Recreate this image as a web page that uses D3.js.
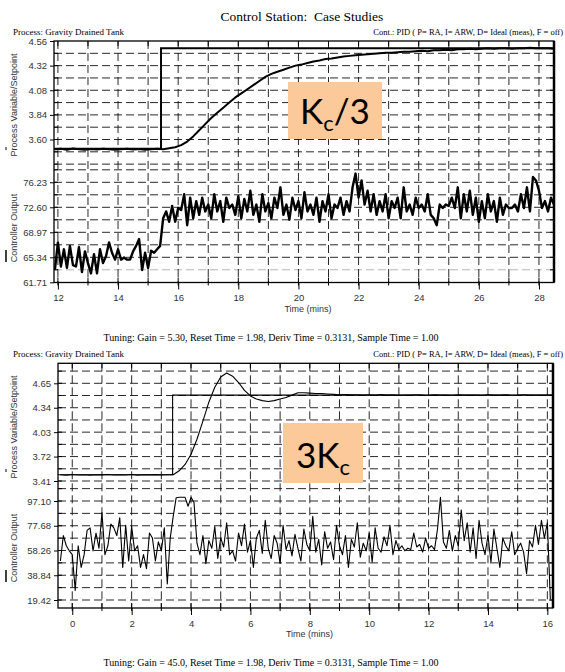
<!DOCTYPE html>
<html>
<head>
<meta charset="utf-8">
<script src="https://cdn.jsdelivr.net/npm/d3@7"></script>
<style>
  body { margin: 0; background: #fff; }
</style>
</head>
<body>
<div id="chart"></div>
<script>
// ---- data ----
const topPvTicks = [3.60, 3.84, 4.08, 4.32, 4.56];
const topCoTicks = [61.71, 65.34, 68.97, 72.60, 76.23];
const topTimeTicks = [12, 14, 16, 18, 20, 22, 24, 26, 28];
const topSpTime = [11.87, 15.43, 15.43, 28.5];
const topSpValue = [3.51, 3.51, 4.49, 4.49];
// PV sampled every 0.2 min from 11.9
const topPvStart = 11.9, topPvStep = 0.2;
const topPvValue = [
  3.505, 3.51, 3.50, 3.512, 3.505, 3.50, 3.508, 3.503, 3.51, 3.505,
  3.50, 3.506, 3.51, 3.503, 3.508, 3.50, 3.505, 3.51, 3.505, 3.515,
  3.525, 3.545, 3.58, 3.63, 3.69, 3.75, 3.81, 3.86, 3.91, 3.96,
  4.01, 4.05, 4.09, 4.13, 4.17, 4.21, 4.24, 4.26, 4.28, 4.30,
  4.32, 4.33, 4.345, 4.36, 4.37, 4.385, 4.39, 4.40, 4.41, 4.415,
  4.42, 4.425, 4.43, 4.435, 4.44, 4.445, 4.445, 4.45, 4.455, 4.455,
  4.46, 4.465, 4.46, 4.47, 4.47, 4.475, 4.47, 4.48, 4.48, 4.485,
  4.48, 4.485, 4.49, 4.485, 4.49, 4.49, 4.485, 4.49, 4.49, 4.495,
  4.49, 4.49, 4.49, 4.485
];
// CO sampled every 0.1 min from 11.9
const topCoStart = 11.9, topCoStep = 0.1;
const topCoValue = [
  63.5, 67.5, 64.0, 66.5, 63.8, 67.0, 64.2, 64.0, 66.8, 63.2,
  66.2, 64.5, 63.0, 65.8, 63.0, 66.5, 64.5, 65.5, 67.5, 66.0,
  65.0, 66.5, 65.0, 65.3, 65.0, 65.0, 66.2, 67.0, 68.0, 63.5,
  66.0, 63.8, 66.3, 66.0, 66.5, 67.0, 71.0, 72.0, 70.5, 72.8,
  70.5, 72.5, 72.2, 74.5, 70.0, 74.0, 71.0, 73.5, 71.5, 74.0,
  72.0, 73.0, 71.0, 74.5, 72.0, 73.5, 70.5, 74.0, 72.5, 73.0,
  71.5, 74.2, 71.0, 73.8, 72.0, 75.0, 71.5, 73.0, 70.5, 74.5,
  72.0, 73.2, 71.0, 74.0, 72.5, 75.5, 71.5, 73.0, 70.8, 74.0,
  72.2, 73.5, 71.0, 74.8, 72.0, 73.0, 71.5, 74.0, 70.5, 73.5,
  72.0, 74.5, 71.0, 73.0, 72.5, 74.0, 71.5, 73.5, 72.0, 75.5,
  77.5, 74.0, 76.5, 73.0, 75.0, 72.0, 74.5, 71.5, 73.5, 72.0,
  74.5, 71.0, 73.5, 72.5, 74.0, 71.0, 75.5, 72.0, 73.0, 71.5,
  74.0, 72.5, 73.0, 72.0, 74.5, 71.5, 71.0, 70.0, 73.0, 72.5,
  73.0, 72.8, 74.0, 72.5, 75.5, 71.0, 74.5, 72.0, 75.0, 71.5,
  74.0, 70.5, 73.5, 71.0, 74.5, 72.0, 73.5, 70.5, 74.0, 71.5,
  73.0, 72.5, 72.5, 73.0, 72.0, 74.5, 72.5, 75.5, 72.0, 77.0,
  76.5, 75.0, 72.5, 73.5, 72.0, 74.0, 73.0
];

const botPvTicks = [3.41, 3.72, 4.03, 4.34, 4.65];
const botCoTicks = [19.42, 38.84, 58.26, 77.68, 97.10];
const botTimeTicks = [0, 2, 4, 6, 8, 10, 12, 14, 16];
const botSpTime = [-0.48, 3.38, 3.38, 16.19];
const botSpValue = [3.49, 3.49, 4.50, 4.50];
const botPvStart = -0.4, botPvStep = 0.2;
const botPvValue = [
  3.49, 3.485, 3.492, 3.487, 3.49, 3.484, 3.49, 3.488, 3.493, 3.486,
  3.49, 3.487, 3.492, 3.485, 3.49, 3.488, 3.491, 3.486, 3.49, 3.49,
  3.54, 3.62, 3.75, 3.94, 4.17, 4.41, 4.60, 4.73, 4.78, 4.74,
  4.66, 4.56, 4.49, 4.45, 4.43, 4.42, 4.43, 4.45, 4.47, 4.50,
  4.53, 4.53, 4.525, 4.52, 4.52, 4.515, 4.51, 4.505, 4.508, 4.503,
  4.505, 4.50, 4.504, 4.50, 4.506, 4.50, 4.503, 4.498, 4.502, 4.50,
  4.505, 4.50, 4.498, 4.503, 4.50, 4.502, 4.498, 4.504, 4.50, 4.50,
  4.502, 4.498, 4.505, 4.50, 4.50, 4.503, 4.498, 4.50, 4.504, 4.50,
  4.50, 4.502, 4.50, 4.50
];
const botCoStart = -0.4, botCoStep = 0.1;
const botCoValue = [
  50, 70, 62, 58, 55, 27, 62, 45, 55, 74,
  76, 58, 72, 60, 88, 55, 62, 79, 76, 70,
  84, 45, 78, 50, 77, 58, 62, 45, 55, 44,
  72, 68, 50, 65, 58, 76, 32, 68, 85, 99.7,
  100, 100, 100, 93, 100, 96, 64, 55, 70, 48,
  66, 60, 77, 52, 68, 61, 80, 55, 58, 50,
  72, 62, 79, 57, 66, 45, 68, 74, 56, 82,
  60, 52, 70, 64, 48, 78, 59, 66, 54, 71,
  60, 50, 75, 63, 58, 85, 57, 67, 47, 73,
  60, 65, 51, 78, 62, 55, 70, 45, 67, 61,
  80, 53, 64, 58, 72, 49, 76, 60, 57, 69,
  62, 78, 55, 66, 59, 62, 58, 60, 59, 72,
  61, 63, 57, 68, 60, 62, 59, 75, 100, 65,
  60, 74, 58, 70, 62, 90, 66, 80, 57, 76,
  52, 82, 64, 55, 70, 49, 75, 60, 45, 68,
  62, 58, 73, 55, 60, 64, 57, 40, 66, 61,
  78, 63, 82, 68, 80, 20
];

const processText = "Process: Gravity Drained Tank";
const contText = "Cont.: PID ( P= RA, I= ARW, D= Ideal (meas), F = off)";
const topTuning = "Tuning: Gain = 5.30, Reset Time = 1.98, Deriv Time = 0.3131, Sample Time = 1.00";
const botTuning = "Tuning: Gain = 45.0, Reset Time = 1.98, Deriv Time = 0.3131, Sample Time = 1.00";

// ---- drawing ----
const svg = d3.select("#chart").append("svg")
    .attr("width", 565)
    .attr("height", 672);

const serif = "'Liberation Serif', 'Times New Roman', serif";
const sans = "'Liberation Sans', Arial, sans-serif";

svg.append("text")
    .attr("x", 302).attr("y", 21)
    .attr("text-anchor", "middle")
    .style("font-family", serif).style("font-size", "13.5px")
    .style("white-space", "pre")
    .text("Control Station:  Case Studies");

function series(start, step, values) {
  return values.map((v, i) => ({t: start + i * step, v: v}));
}

function drawPanel(p) {
  const x = d3.scaleLinear().domain(p.xDomain).range([p.left, p.right]);
  const yPv = d3.scaleLinear().domain(d3.extent(p.pvTicks)).range(p.pvRange);
  const yCo = d3.scaleLinear().domain(d3.extent(p.coTicks)).range(p.coRange);
  const g = svg.append("g");

  // header
  g.append("text").attr("x", 13).attr("y", p.top - 6)
      .style("font-family", serif).style("font-size", "9px")
      .text(processText);
  g.append("text").attr("x", 563).attr("y", p.top - 6)
      .attr("text-anchor", "end")
      .style("font-family", serif).style("font-size", "8.5px")
      .text(contText);

  // grid
  const pvStep = p.pvTicks[1] - p.pvTicks[0];
  const coStep = p.coTicks[1] - p.coTicks[0];
  const pvGrid = d3.range(p.pvGridFrom, p.pvGridTo + 1e-6, pvStep / 2);
  const coGrid = d3.range(p.coGridFrom, p.coGridTo + 1e-6, coStep / 2);
  const hy = pvGrid.map(v => yPv(v)).concat(coGrid.map(v => yCo(v)))
      .filter(y => y > p.top + 1 && y < p.bottom - 1);
  const vx = d3.range(Math.ceil(p.xDomain[0]), Math.floor(p.xDomain[1]) + 1).map(t => x(t));

  g.selectAll(".hgrid").data(hy).enter().append("line")
      .attr("x1", p.left).attr("x2", p.right)
      .attr("y1", d => d).attr("y2", d => d)
      .attr("stroke", (d, i) => (p.grayLine && Math.abs(d - yCo(p.grayLine)) < 0.5) ? "#aaa" : "#111")
      .attr("stroke-width", 0.9)
      .attr("stroke-dasharray", "8,4");
  g.selectAll(".vgrid").data(vx).enter().append("line")
      .attr("x1", d => d).attr("x2", d => d)
      .attr("y1", p.top).attr("y2", p.bottom)
      .attr("stroke", "#111")
      .attr("stroke-width", 0.9)
      .attr("stroke-dasharray", "8,4");

  // small inner ticks on the frame
  hy.forEach(y => {
    g.append("line").attr("x1", p.left).attr("x2", p.left + 4).attr("y1", y).attr("y2", y).attr("stroke", "#000");
    g.append("line").attr("x1", p.right - 4).attr("x2", p.right).attr("y1", y).attr("y2", y).attr("stroke", "#000");
  });
  vx.forEach(xx => {
    g.append("line").attr("x1", xx).attr("x2", xx).attr("y1", p.top).attr("y2", p.top + 5).attr("stroke", "#000");
    g.append("line").attr("x1", xx).attr("x2", xx).attr("y1", p.bottom - 5).attr("y2", p.bottom + 3).attr("stroke", "#000");
  });

  // axes
  const fmt = d3.format(".2f");
  const axPv = g.append("g").attr("transform", `translate(${p.left},0)`)
      .call(d3.axisLeft(yPv).tickValues(p.pvTicks).tickSize(4).tickPadding(3).tickFormat(fmt));
  const axCo = g.append("g").attr("transform", `translate(${p.left},0)`)
      .call(d3.axisLeft(yCo).tickValues(p.coTicks).tickSize(4).tickPadding(3).tickFormat(fmt));
  const axX = g.append("g").attr("transform", `translate(0,${p.bottom})`)
      .call(d3.axisBottom(x).tickValues(p.timeTicks).tickSize(7).tickPadding(5).tickFormat(d3.format("d")));
  [axPv, axCo, axX].forEach(a => {
    a.select(".domain").remove();
    a.selectAll("text").style("font-family", sans).style("font-size", "9.5px").attr("fill", "#333");
    a.selectAll("line").attr("stroke", "#000");
  });

  // frame
  g.append("rect")
      .attr("x", p.left).attr("y", p.top)
      .attr("width", p.right - p.left).attr("height", p.bottom - p.top)
      .attr("fill", "none").attr("stroke", "#000").attr("stroke-width", 1.3);
  g.append("line")
      .attr("x1", p.right).attr("x2", p.right).attr("y1", p.top).attr("y2", p.bottom)
      .attr("stroke", "#000").attr("stroke-width", 2.5);

  // data
  const clipId = "clip" + p.id;
  svg.append("clipPath").attr("id", clipId).append("rect")
      .attr("x", p.left).attr("y", p.top)
      .attr("width", p.right - p.left).attr("height", p.bottom - p.top);
  const data = g.append("g").attr("clip-path", `url(#${clipId})`);

  const pvLine = d3.line().x(d => x(d.t)).y(d => yPv(d.v));
  const coLine = d3.line().x(d => x(d.t)).y(d => yCo(d.v));
  const sp = p.spTime.map((t, i) => ({t: t, v: p.spValue[i]}));

  data.append("path").datum(sp).attr("d", pvLine)
      .attr("fill", "none").attr("stroke", "#000").attr("stroke-width", p.spWidth);
  data.append("path").datum(series(p.pvStart, p.pvStepT, p.pvValue)).attr("d", pvLine)
      .attr("fill", "none").attr("stroke", "#000").attr("stroke-width", p.pvWidth)
      .attr("stroke-linejoin", "round");
  data.append("path").datum(series(p.coStart, p.coStepT, p.coValue)).attr("d", coLine)
      .attr("fill", "none").attr("stroke", "#000").attr("stroke-width", p.coWidth)
      .attr("stroke-linejoin", "round");

  // axis titles
  g.append("text")
      .attr("transform", `translate(17,${p.pvLabelY}) rotate(-90)`)
      .attr("text-anchor", "middle")
      .style("font-family", sans).style("font-size", "9px").attr("fill", "#333")
      .text("Process Variable/Setpoint");
  g.append("text")
      .attr("transform", `translate(17,${p.coLabelY}) rotate(-90)`)
      .attr("text-anchor", "middle")
      .style("font-family", sans).style("font-size", "9px").attr("fill", "#333")
      .text("Controller Output");
  // legend marks
  g.append("line").attr("x1", 6).attr("x2", 6).attr("y1", p.pvLabelY + 42).attr("y2", p.pvLabelY + 45)
      .attr("stroke", "#000").attr("stroke-width", 1);
  g.append("line").attr("x1", 6).attr("x2", 6).attr("y1", p.coLabelY + 22).attr("y2", p.coLabelY + 34)
      .attr("stroke", "#000").attr("stroke-width", 1.5);

  g.append("text")
      .attr("x", (p.left + p.right) / 2 + 4).attr("y", p.bottom + 29)
      .attr("text-anchor", "middle")
      .style("font-family", sans).style("font-size", "9px").attr("fill", "#333")
      .text("Time (mins)");
  g.append("text")
      .attr("x", 271).attr("y", p.bottom + 58)
      .attr("text-anchor", "middle")
      .style("font-family", serif).style("font-size", "10px")
      .text(p.tuning);

  // orange note
  const nb = p.note;
  g.append("rect")
      .attr("x", nb.x).attr("y", nb.y).attr("width", nb.w).attr("height", nb.h)
      .attr("fill", "#FBC99A");
  const nt = g.append("text")
      .attr("x", nb.x + nb.w / 2).attr("y", nb.y + nb.h - 15)
      .attr("text-anchor", "middle")
      .style("font-family", "Lato, 'Open Sans', sans-serif").style("font-size", "35px")
      .attr("fill", "#000");
  nb.parts.forEach(part => {
    nt.append("tspan")
        .attr("dy", part.dy)
        .style("font-size", part.sub ? "22px" : "35px")
        .text(part.s);
  });
}

drawPanel({
  id: "top",
  left: 54, right: 554, top: 41, bottom: 282.5,
  xDomain: [11.87, 28.5],
  pvTicks: topPvTicks, pvRange: [139.5, 41],
  coTicks: topCoTicks, coRange: [282.3, 182.3],
  pvGridFrom: 3.36, pvGridTo: 4.56,
  coGridFrom: 61.71, coGridTo: 78.045,
  grayLine: 63.525,
  timeTicks: topTimeTicks,
  spTime: topSpTime, spValue: topSpValue,
  pvStart: topPvStart, pvStepT: topPvStep, pvValue: topPvValue,
  coStart: topCoStart, coStepT: topCoStep, coValue: topCoValue,
  spWidth: 2, pvWidth: 2, coWidth: 2.4,
  pvLabelY: 105, coLabelY: 228,
  tuning: topTuning,
  note: {x: 288, y: 82, w: 94, h: 57,
         parts: [{s: "K", dy: 0}, {s: "c", sub: true, dy: 7}, {s: "/3", dy: -7}]}
});

drawPanel({
  id: "bot",
  left: 58, right: 553, top: 363.3, bottom: 608,
  xDomain: [-0.48, 16.19],
  pvTicks: botPvTicks, pvRange: [481, 383.3],
  coTicks: botCoTicks, coRange: [600, 501],
  pvGridFrom: 3.41, pvGridTo: 4.805,
  coGridFrom: 19.42, coGridTo: 106.81,
  grayLine: null,
  timeTicks: botTimeTicks,
  spTime: botSpTime, spValue: botSpValue,
  pvStart: botPvStart, pvStepT: botPvStep, pvValue: botPvValue,
  coStart: botCoStart, coStepT: botCoStep, coValue: botCoValue,
  spWidth: 1.1, pvWidth: 1.1, coWidth: 1.1,
  pvLabelY: 427, coLabelY: 548,
  tuning: botTuning,
  note: {x: 283, y: 423, w: 80, h: 60,
         parts: [{s: "3K", dy: 0}, {s: "c", sub: true, dy: 7}]}
});
</script>
</body>
</html>
